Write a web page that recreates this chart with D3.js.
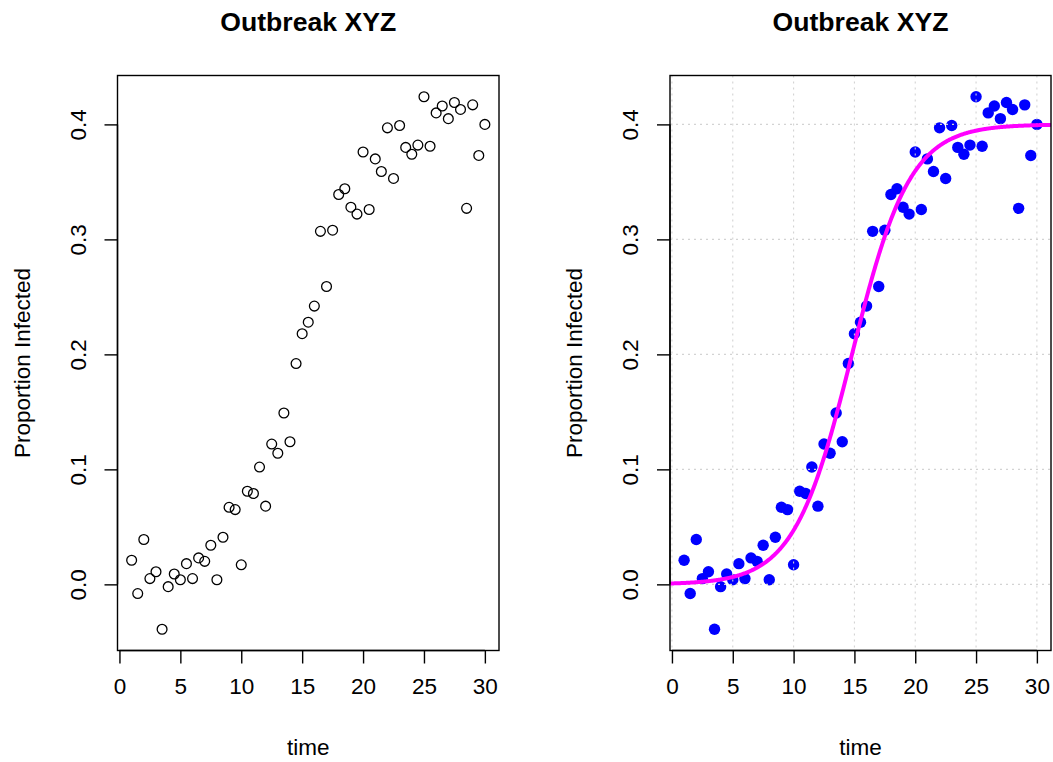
<!DOCTYPE html>
<html>
<head>
<meta charset="utf-8">
<script src="https://cdn.jsdelivr.net/npm/d3@7"></script>
<style>
  html, body { margin: 0; padding: 0; background: #fff; }
  svg { display: block; font-family: "Liberation Sans", Arial, Helvetica, sans-serif; }
</style>
</head>
<body>
<svg id="chart" width="1053" height="762"></svg>
<script>
// Observation times (days)
const time = [1, 1.5, 2, 2.5, 3, 3.5, 4, 4.5, 5, 5.5, 6, 6.5, 7, 7.5, 8, 8.5, 9, 9.5, 10, 10.5,
  11, 11.5, 12, 12.5, 13, 13.5, 14, 14.5, 15, 15.5, 16, 16.5, 17, 17.5, 18, 18.5, 19, 19.5, 20, 20.5,
  21, 21.5, 22, 22.5, 23, 23.5, 24, 24.5, 25, 25.5, 26, 26.5, 27, 27.5, 28, 28.5, 29, 29.5, 30];

// Observed proportion infected at each time
const proportion = [0.021, -0.008, 0.039, 0.005, 0.011, -0.039, -0.002, 0.009, 0.004, 0.018,
  0.005, 0.023, 0.020, 0.034, 0.004, 0.041, 0.067, 0.065, 0.017, 0.081,
  0.079, 0.102, 0.068, 0.122, 0.114, 0.149, 0.124, 0.192, 0.218, 0.228,
  0.242, 0.307, 0.259, 0.308, 0.339, 0.344, 0.328, 0.322, 0.376, 0.326,
  0.370, 0.359, 0.397, 0.353, 0.399, 0.380, 0.374, 0.382, 0.424, 0.381,
  0.410, 0.416, 0.405, 0.419, 0.413, 0.327, 0.417, 0.373, 0.400];

// Fitted logistic growth model: K / (1 + exp(-r (t - t0)))
const fitK = 0.40;
const fitR = 0.42;
const fitT0 = 14.8;

const xTicks = [0, 5, 10, 15, 20, 25, 30];
const yTicks = [0, 0.1, 0.2, 0.3, 0.4];

const chartTitle = "Outbreak XYZ";
const xLabel = "time";
const yLabel = "Proportion Infected";

const data = time.map((t, i) => ({ t, p: proportion[i] }));

// R-style axis range: data extent padded by 4% on each side
function padExtent(ext) {
  const d = (ext[1] - ext[0]) * 0.04;
  return [ext[0] - d, ext[1] + d];
}
const xDomain = padExtent(d3.extent(time));
const yDomain = padExtent(d3.extent(proportion));

const svg = d3.select("#chart");
const FONT = 22.5;
const TICK = 13;

function drawPanel(box, opts) {
  const x = d3.scaleLinear().domain(xDomain).range([box.left, box.right]);
  const y = d3.scaleLinear().domain(yDomain).range([box.bottom, box.top]);
  const g = svg.append("g");
  const cx = (box.left + box.right) / 2;
  const cy = (box.top + box.bottom) / 2;

  const clipId = "clip" + opts.id;
  g.append("clipPath").attr("id", clipId)
    .append("rect")
    .attr("x", box.left).attr("y", box.top)
    .attr("width", box.right - box.left).attr("height", box.bottom - box.top);

  if (opts.filled) {
    g.append("g").selectAll("circle").data(data).join("circle")
      .attr("cx", d => x(d.t)).attr("cy", d => y(d.p))
      .attr("r", 5.7).attr("fill", "#0000ff");
  } else {
    g.append("g").selectAll("circle").data(data).join("circle")
      .attr("cx", d => x(d.t)).attr("cy", d => y(d.p))
      .attr("r", 4.9).attr("fill", "none").attr("stroke", "#000").attr("stroke-width", 1.3);
  }

  if (opts.grid) {
    const grid = g.append("g").attr("clip-path", `url(#${clipId})`)
      .attr("stroke", "#d3d3d3").attr("stroke-width", 1.1).attr("stroke-dasharray", "2,4");
    grid.selectAll("line.gx").data(xTicks).join("line").attr("class", "gx")
      .attr("x1", d => x(d)).attr("x2", d => x(d))
      .attr("y1", box.top).attr("y2", box.bottom);
    grid.selectAll("line.gy").data(yTicks).join("line").attr("class", "gy")
      .attr("y1", d => y(d)).attr("y2", d => y(d))
      .attr("x1", box.left).attr("x2", box.right);
  }

  if (opts.curve) {
    const ts = d3.range(xDomain[0], xDomain[1] + 0.05, 0.05);
    const model = t => fitK / (1 + Math.exp(-fitR * (t - fitT0)));
    const line = d3.line().x(t => x(t)).y(t => y(model(t)));
    g.append("path").attr("clip-path", `url(#${clipId})`)
      .attr("d", line(ts))
      .attr("fill", "none").attr("stroke", "#ff00ff").attr("stroke-width", 4)
      .attr("stroke-linejoin", "round");
  }

  // plot frame
  g.append("rect")
    .attr("x", box.left).attr("y", box.top)
    .attr("width", box.right - box.left).attr("height", box.bottom - box.top)
    .attr("fill", "none").attr("stroke", "#000").attr("stroke-width", 1.4);

  // x axis
  const xAxis = d3.axisBottom(x).tickValues(xTicks).tickFormat(d3.format("d"))
    .tickSizeInner(TICK).tickSizeOuter(0).tickPadding(14);
  const xa = g.append("g").attr("transform", `translate(0,${box.bottom})`).call(xAxis);
  xa.select(".domain").attr("d", `M${x(xTicks[0])},0H${x(xTicks[xTicks.length - 1])}`)
    .attr("stroke-width", 1.4);
  xa.selectAll(".tick line").attr("stroke-width", 1.4);
  xa.selectAll(".tick text").attr("font-size", FONT).attr("font-family", null)
    .attr("fill", "#000").attr("dy", "0.72em");

  // y axis, labels rotated parallel to axis
  const yAxis = d3.axisLeft(y).tickValues(yTicks).tickFormat(d3.format(".1f"))
    .tickSizeInner(TICK).tickSizeOuter(0);
  const ya = g.append("g").attr("transform", `translate(${box.left},0)`).call(yAxis);
  ya.select(".domain").attr("d", `M0,${y(yTicks[0])}V${y(yTicks[yTicks.length - 1])}`)
    .attr("stroke-width", 1.4);
  ya.selectAll(".tick line").attr("stroke-width", 1.4);
  ya.selectAll(".tick text")
    .attr("font-size", FONT).attr("font-family", null).attr("fill", "#000")
    .attr("x", null).attr("dy", null)
    .attr("text-anchor", "middle")
    .attr("dominant-baseline", "central")
    .attr("transform", "translate(-39.5,0) rotate(-90)");

  // titles
  g.append("text").attr("x", cx).attr("y", 31)
    .attr("text-anchor", "middle").attr("font-size", 26.6).attr("font-weight", "bold")
    .text(chartTitle);
  g.append("text").attr("x", cx).attr("y", 755)
    .attr("text-anchor", "middle").attr("font-size", FONT)
    .text(xLabel);
  g.append("text")
    .attr("transform", `translate(${box.left - 95.5},${cy}) rotate(-90)`)
    .attr("text-anchor", "middle").attr("dominant-baseline", "central")
    .attr("font-size", FONT)
    .text(yLabel);
}

drawPanel({ left: 117.5, right: 499, top: 75.5, bottom: 650.5 }, { id: "a", filled: false });
drawPanel({ left: 670, right: 1051, top: 75.5, bottom: 650.5 }, { id: "b", filled: true, grid: true, curve: true });
</script>
</body>
</html>
